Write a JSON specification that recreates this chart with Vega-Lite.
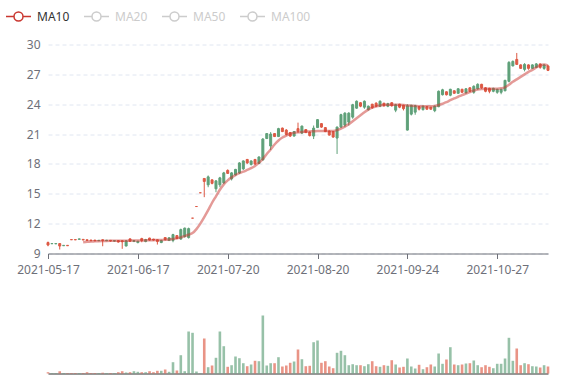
{
"$schema": "https://vega.github.io/schema/vega-lite/v6.json",
"padding": {"left": 5, "top": 2.5, "right": 5, "bottom": 5},
"spacing": 36,
"config": {"font": "Noto Sans", "view": {"stroke": null}},
"data": {"values": [
{"d":"2021-05-17","o":10.1,"h":10.2,"l":9.73,"c":9.85,"v":1300,"ma":null},
{"d":"2021-05-18","o":9.98,"h":10.02,"l":9.96,"c":10.0,"v":400,"ma":null},
{"d":"2021-05-19","o":9.97,"h":10.02,"l":9.95,"c":10.0,"v":400,"ma":null},
{"d":"2021-05-20","o":10.0,"h":10.02,"l":9.4,"c":9.75,"v":2300,"ma":null},
{"d":"2021-05-21","o":9.78,"h":9.84,"l":9.76,"c":9.82,"v":400,"ma":null},
{"d":"2021-05-24","o":9.82,"h":9.84,"l":9.76,"c":9.78,"v":400,"ma":null},
{"d":"2021-05-25","o":10.4,"h":10.4,"l":10.36,"c":10.38,"v":500,"ma":null},
{"d":"2021-05-26","o":10.4,"h":10.42,"l":10.35,"c":10.37,"v":500,"ma":null},
{"d":"2021-05-27","o":10.42,"h":10.48,"l":10.4,"c":10.47,"v":500,"ma":null},
{"d":"2021-05-28","o":10.42,"h":10.44,"l":10.33,"c":10.36,"v":500,"ma":10.13},
{"d":"2021-05-31","o":10.38,"h":10.4,"l":10.28,"c":10.3,"v":1300,"ma":10.17},
{"d":"2021-06-01","o":10.35,"h":10.37,"l":10.25,"c":10.28,"v":500,"ma":10.2},
{"d":"2021-06-02","o":10.34,"h":10.38,"l":10.25,"c":10.27,"v":500,"ma":10.22},
{"d":"2021-06-03","o":10.28,"h":10.35,"l":10.25,"c":10.33,"v":500,"ma":10.24},
{"d":"2021-06-04","o":10.38,"h":10.4,"l":9.73,"c":10.3,"v":800,"ma":10.25},
{"d":"2021-06-07","o":10.28,"h":10.36,"l":10.25,"c":10.34,"v":500,"ma":10.26},
{"d":"2021-06-08","o":10.32,"h":10.35,"l":10.2,"c":10.25,"v":500,"ma":10.27},
{"d":"2021-06-09","o":10.24,"h":10.33,"l":10.2,"c":10.3,"v":500,"ma":10.28},
{"d":"2021-06-10","o":10.3,"h":10.32,"l":10.1,"c":10.15,"v":1300,"ma":10.28},
{"d":"2021-06-11","o":10.28,"h":10.3,"l":9.47,"c":10.18,"v":2300,"ma":10.28},
{"d":"2021-06-14","o":9.75,"h":10.3,"l":9.73,"c":10.28,"v":1000,"ma":10.28},
{"d":"2021-06-15","o":10.47,"h":10.5,"l":10.18,"c":10.22,"v":1300,"ma":10.3},
{"d":"2021-06-16","o":10.2,"h":10.35,"l":10.15,"c":10.3,"v":2300,"ma":10.3},
{"d":"2021-06-17","o":10.1,"h":10.26,"l":10.02,"c":10.24,"v":1700,"ma":10.3},
{"d":"2021-06-18","o":10.5,"h":10.58,"l":10.13,"c":10.3,"v":1300,"ma":10.31},
{"d":"2021-06-21","o":10.2,"h":10.47,"l":10.13,"c":10.4,"v":1300,"ma":10.32},
{"d":"2021-06-22","o":10.55,"h":10.58,"l":10.3,"c":10.35,"v":2300,"ma":10.33},
{"d":"2021-06-23","o":10.45,"h":10.47,"l":10.3,"c":10.35,"v":1300,"ma":10.34},
{"d":"2021-06-24","o":10.38,"h":10.4,"l":9.9,"c":10.2,"v":2700,"ma":10.35},
{"d":"2021-06-25","o":10.1,"h":10.38,"l":10.04,"c":10.3,"v":2700,"ma":10.36},
{"d":"2021-06-28","o":10.6,"h":10.64,"l":10.3,"c":10.4,"v":4000,"ma":10.37},
{"d":"2021-06-29","o":10.3,"h":10.6,"l":10.28,"c":10.58,"v":1700,"ma":10.4},
{"d":"2021-06-30","o":10.3,"h":10.98,"l":10.13,"c":10.9,"v":11300,"ma":10.45},
{"d":"2021-07-01","o":10.8,"h":10.85,"l":10.45,"c":10.5,"v":3000,"ma":10.52},
{"d":"2021-07-02","o":10.45,"h":11.5,"l":10.38,"c":11.4,"v":18300,"ma":10.62},
{"d":"2021-07-05","o":10.7,"h":11.6,"l":10.6,"c":11.55,"v":2300,"ma":10.75},
{"d":"2021-07-06","o":10.6,"h":11.6,"l":10.5,"c":11.5,"v":42000,"ma":10.88},
{"d":"2021-07-07","o":12.55,"h":12.55,"l":12.55,"c":12.55,"v":40700,"ma":11.05},
{"d":"2021-07-08","o":13.72,"h":13.72,"l":13.72,"c":13.72,"v":2000,"ma":11.45},
{"d":"2021-07-09","o":15.1,"h":15.1,"l":15.1,"c":15.1,"v":300,"ma":12.0},
{"d":"2021-07-12","o":16.54,"h":16.54,"l":14.66,"c":16.24,"v":35000,"ma":12.65},
{"d":"2021-07-13","o":15.9,"h":16.84,"l":15.66,"c":16.7,"v":6300,"ma":13.35},
{"d":"2021-07-14","o":16.4,"h":16.45,"l":15.95,"c":16.05,"v":8000,"ma":14.1},
{"d":"2021-07-15","o":15.5,"h":16.35,"l":15.16,"c":16.3,"v":15700,"ma":14.75},
{"d":"2021-07-16","o":15.9,"h":16.7,"l":15.66,"c":16.6,"v":42000,"ma":15.4},
{"d":"2021-07-19","o":16.1,"h":17.2,"l":16.0,"c":17.1,"v":27300,"ma":15.95},
{"d":"2021-07-20","o":17.35,"h":17.45,"l":17.0,"c":17.05,"v":6700,"ma":16.35},
{"d":"2021-07-21","o":16.5,"h":17.17,"l":16.34,"c":17.1,"v":8300,"ma":16.65},
{"d":"2021-07-22","o":16.9,"h":17.5,"l":16.84,"c":17.45,"v":17000,"ma":16.88},
{"d":"2021-07-23","o":17.1,"h":18.17,"l":17.0,"c":18.1,"v":15300,"ma":17.07},
{"d":"2021-07-26","o":17.5,"h":18.35,"l":17.4,"c":18.3,"v":10300,"ma":17.22},
{"d":"2021-07-27","o":18.45,"h":18.5,"l":18.0,"c":18.1,"v":7300,"ma":17.4},
{"d":"2021-07-28","o":17.95,"h":18.35,"l":17.84,"c":18.3,"v":9000,"ma":17.58},
{"d":"2021-07-29","o":18.45,"h":18.5,"l":17.9,"c":18.0,"v":12700,"ma":17.8},
{"d":"2021-07-30","o":18.05,"h":18.75,"l":18.0,"c":18.7,"v":12300,"ma":18.1},
{"d":"2021-08-02","o":18.4,"h":20.6,"l":18.35,"c":20.5,"v":58000,"ma":18.5},
{"d":"2021-08-03","o":20.55,"h":21.1,"l":20.5,"c":21.05,"v":8000,"ma":19.0},
{"d":"2021-08-04","o":19.8,"h":21.2,"l":19.4,"c":21.0,"v":10300,"ma":19.45},
{"d":"2021-08-05","o":21.05,"h":21.1,"l":20.7,"c":20.75,"v":10300,"ma":19.95},
{"d":"2021-08-06","o":20.75,"h":21.63,"l":20.7,"c":21.55,"v":16300,"ma":20.35},
{"d":"2021-08-09","o":21.6,"h":21.65,"l":21.2,"c":21.25,"v":7000,"ma":20.65},
{"d":"2021-08-10","o":21.4,"h":21.5,"l":20.86,"c":20.95,"v":8000,"ma":20.85},
{"d":"2021-08-11","o":21.15,"h":21.2,"l":20.7,"c":20.8,"v":10700,"ma":21.03},
{"d":"2021-08-12","o":20.8,"h":21.3,"l":20.76,"c":21.25,"v":12000,"ma":21.12},
{"d":"2021-08-13","o":21.55,"h":22.15,"l":21.1,"c":21.3,"v":24000,"ma":21.18},
{"d":"2021-08-16","o":21.1,"h":21.86,"l":21.0,"c":21.8,"v":14300,"ma":21.22},
{"d":"2021-08-17","o":21.45,"h":21.5,"l":21.1,"c":21.15,"v":7300,"ma":21.25},
{"d":"2021-08-18","o":21.2,"h":21.26,"l":20.76,"c":20.85,"v":7700,"ma":21.27},
{"d":"2021-08-19","o":20.8,"h":21.86,"l":20.5,"c":21.6,"v":31300,"ma":21.28},
{"d":"2021-08-20","o":21.65,"h":22.5,"l":21.63,"c":22.45,"v":33000,"ma":21.3},
{"d":"2021-08-23","o":22.05,"h":22.1,"l":21.63,"c":21.7,"v":10700,"ma":21.3},
{"d":"2021-08-24","o":21.65,"h":21.7,"l":21.2,"c":21.25,"v":12300,"ma":21.3},
{"d":"2021-08-25","o":21.3,"h":21.36,"l":20.86,"c":20.9,"v":7000,"ma":21.3},
{"d":"2021-08-26","o":21.25,"h":21.3,"l":20.63,"c":20.7,"v":5300,"ma":21.32},
{"d":"2021-08-27","o":20.6,"h":21.76,"l":19.0,"c":21.7,"v":20700,"ma":21.4},
{"d":"2021-08-30","o":21.7,"h":23.04,"l":21.63,"c":22.95,"v":22700,"ma":21.55},
{"d":"2021-08-31","o":21.9,"h":23.2,"l":21.7,"c":23.1,"v":18300,"ma":21.75},
{"d":"2021-09-01","o":22.2,"h":23.2,"l":21.86,"c":23.1,"v":8300,"ma":22.0},
{"d":"2021-09-02","o":22.7,"h":24.04,"l":22.54,"c":23.95,"v":9300,"ma":22.3},
{"d":"2021-09-03","o":23.6,"h":24.38,"l":23.54,"c":24.3,"v":8300,"ma":22.6},
{"d":"2021-09-06","o":24.15,"h":24.2,"l":23.7,"c":23.8,"v":8300,"ma":22.9},
{"d":"2021-09-07","o":23.7,"h":24.38,"l":23.54,"c":24.3,"v":7300,"ma":23.2},
{"d":"2021-09-08","o":23.45,"h":23.87,"l":23.37,"c":23.8,"v":9300,"ma":23.45},
{"d":"2021-09-09","o":24.0,"h":24.04,"l":23.54,"c":23.65,"v":12300,"ma":23.65},
{"d":"2021-09-10","o":24.1,"h":24.2,"l":23.7,"c":23.8,"v":7300,"ma":23.78},
{"d":"2021-09-13","o":23.8,"h":24.38,"l":23.7,"c":24.3,"v":6700,"ma":23.87},
{"d":"2021-09-14","o":24.1,"h":24.14,"l":23.75,"c":23.85,"v":8300,"ma":23.92},
{"d":"2021-09-15","o":23.8,"h":24.14,"l":23.7,"c":24.05,"v":7700,"ma":23.94},
{"d":"2021-09-16","o":24.15,"h":24.2,"l":23.75,"c":23.85,"v":13300,"ma":23.95},
{"d":"2021-09-17","o":23.4,"h":24.04,"l":23.2,"c":23.95,"v":9000,"ma":23.95},
{"d":"2021-09-22","o":24.0,"h":24.04,"l":23.6,"c":23.7,"v":6000,"ma":23.94},
{"d":"2021-09-23","o":23.9,"h":23.94,"l":23.37,"c":23.55,"v":6700,"ma":23.92},
{"d":"2021-09-24","o":21.4,"h":24.0,"l":21.36,"c":23.85,"v":15000,"ma":23.88},
{"d":"2021-09-27","o":23.0,"h":23.94,"l":22.87,"c":23.9,"v":7000,"ma":23.85},
{"d":"2021-09-28","o":23.2,"h":23.94,"l":22.94,"c":23.85,"v":5000,"ma":23.82},
{"d":"2021-09-29","o":23.75,"h":23.8,"l":23.37,"c":23.5,"v":8700,"ma":23.8},
{"d":"2021-09-30","o":23.45,"h":23.87,"l":23.37,"c":23.8,"v":4300,"ma":23.8},
{"d":"2021-10-01","o":23.75,"h":23.8,"l":23.45,"c":23.5,"v":6300,"ma":23.8},
{"d":"2021-10-04","o":23.7,"h":23.7,"l":23.45,"c":23.5,"v":9000,"ma":23.8},
{"d":"2021-10-05","o":23.35,"h":23.87,"l":23.2,"c":23.8,"v":7000,"ma":23.82},
{"d":"2021-10-06","o":23.75,"h":25.38,"l":23.7,"c":25.3,"v":20000,"ma":23.92},
{"d":"2021-10-07","o":24.95,"h":25.55,"l":24.88,"c":25.45,"v":9700,"ma":24.05},
{"d":"2021-10-08","o":25.25,"h":25.28,"l":24.88,"c":24.95,"v":14000,"ma":24.2},
{"d":"2021-10-11","o":24.9,"h":25.55,"l":24.8,"c":25.5,"v":26300,"ma":24.4},
{"d":"2021-10-12","o":25.35,"h":25.38,"l":25.05,"c":25.1,"v":9000,"ma":24.58},
{"d":"2021-10-13","o":25.1,"h":25.6,"l":25.05,"c":25.55,"v":8300,"ma":24.75},
{"d":"2021-10-14","o":25.5,"h":25.55,"l":25.15,"c":25.2,"v":9000,"ma":24.92},
{"d":"2021-10-15","o":25.15,"h":25.6,"l":25.05,"c":25.55,"v":10000,"ma":25.08},
{"d":"2021-10-18","o":25.65,"h":25.7,"l":25.2,"c":25.3,"v":10300,"ma":25.22},
{"d":"2021-10-19","o":25.2,"h":25.9,"l":25.05,"c":25.8,"v":13000,"ma":25.38},
{"d":"2021-10-20","o":25.55,"h":26.1,"l":25.45,"c":26.0,"v":8300,"ma":25.47},
{"d":"2021-10-21","o":26.0,"h":26.05,"l":25.55,"c":25.65,"v":6300,"ma":25.52},
{"d":"2021-10-22","o":25.65,"h":25.7,"l":25.2,"c":25.3,"v":8300,"ma":25.55},
{"d":"2021-10-25","o":25.6,"h":25.65,"l":25.1,"c":25.3,"v":6700,"ma":25.55},
{"d":"2021-10-26","o":25.3,"h":25.65,"l":25.2,"c":25.6,"v":5300,"ma":25.55},
{"d":"2021-10-27","o":25.2,"h":25.55,"l":25.05,"c":25.5,"v":9700,"ma":25.56},
{"d":"2021-10-28","o":25.2,"h":25.55,"l":25.0,"c":25.5,"v":9700,"ma":25.6},
{"d":"2021-10-29","o":25.35,"h":26.45,"l":25.3,"c":26.4,"v":15000,"ma":25.7},
{"d":"2021-11-01","o":26.3,"h":28.33,"l":26.2,"c":28.2,"v":35700,"ma":25.95},
{"d":"2021-11-02","o":27.85,"h":28.4,"l":27.8,"c":28.3,"v":12700,"ma":26.25},
{"d":"2021-11-03","o":28.5,"h":29.15,"l":27.95,"c":28.0,"v":25000,"ma":26.5},
{"d":"2021-11-04","o":27.95,"h":28.0,"l":27.55,"c":27.6,"v":8300,"ma":26.75},
{"d":"2021-11-05","o":27.5,"h":28.13,"l":27.3,"c":28.0,"v":10300,"ma":27.0},
{"d":"2021-11-08","o":27.95,"h":28.0,"l":27.46,"c":27.6,"v":9300,"ma":27.25},
{"d":"2021-11-09","o":27.6,"h":28.0,"l":27.56,"c":27.95,"v":7300,"ma":27.45},
{"d":"2021-11-10","o":27.7,"h":28.13,"l":27.66,"c":28.05,"v":7000,"ma":27.7},
{"d":"2021-11-11","o":28.05,"h":28.07,"l":27.56,"c":27.7,"v":6000,"ma":27.9},
{"d":"2021-11-12","o":27.6,"h":28.0,"l":27.46,"c":27.95,"v":8300,"ma":27.98},
{"d":"2021-11-15","o":27.85,"h":27.9,"l":27.33,"c":27.4,"v":7000,"ma":27.9}
]},
"vconcat": [
{
"width": 500, "height": 209,
"encoding": {
  "x": {"field": "d", "type": "ordinal", "sort": null, "scale": {"type": "point", "padding": 0},
    "axis": {"values": ["2021-05-17","2021-06-17","2021-07-20","2021-08-20","2021-09-24","2021-10-27"], "title": null, "labelAngle": 0, "domainColor": "#6E7079", "tickColor": "#6E7079", "tickSize": 5, "labelColor": "#6E7079", "labelFontSize": 12, "labelPadding": 6, "grid": false}}
},
"layer": [
{"mark": {"type": "rule", "strokeWidth": 1},
 "encoding": {
  "y": {"field": "l", "type": "quantitative", "scale": {"domain": [9, 30], "nice": false, "zero": false},
    "axis": {"values": [9,12,15,18,21,24,27,30], "title": null, "domain": false, "ticks": false, "grid": true, "gridDash": [4,3], "gridColor": "#E0E6F1", "labelColor": "#6E7079", "labelFontSize": 12, "labelPadding": 8, "labelOverlap": false, "labelFlush": false}},
  "y2": {"field": "h"},
  "color": {"condition": {"test": "datum.c > datum.o", "value": "#5fa079"}, "value": "#dd5a45"}
 }},
{"mark": {"type": "bar", "size": 2, "strokeWidth": 1},
 "encoding": {
  "y": {"field": "o", "type": "quantitative",
    "axis": {"values": [9,12,15,18,21,24,27,30], "title": null, "domain": false, "ticks": false, "grid": true, "gridDash": [4,3], "gridColor": "#E0E6F1", "labelColor": "#6E7079", "labelFontSize": 12, "labelPadding": 8, "labelOverlap": false, "labelFlush": false}},
  "y2": {"field": "c"},
  "color": {"condition": {"test": "datum.c > datum.o", "value": "#5fa079"}, "value": "#dd5a45"},
  "stroke": {"condition": {"test": "datum.c > datum.o", "value": "#5fa079"}, "value": "#dd5a45"}
 }},
{"mark": {"type": "line", "strokeWidth": 2.5, "opacity": 0.5, "interpolate": "monotone"},
 "encoding": {
  "y": {"field": "ma", "type": "quantitative",
    "axis": {"values": [9,12,15,18,21,24,27,30], "title": null, "domain": false, "ticks": false, "grid": true, "gridDash": [4,3], "gridColor": "#E0E6F1", "labelColor": "#6E7079", "labelFontSize": 12, "labelPadding": 8, "labelOverlap": false, "labelFlush": false}},
  "color": {"datum": "MA10", "type": "nominal",
    "scale": {"domain": ["MA10","MA20","MA50","MA100"], "range": ["#c9362f","#cccccc","#cccccc","#cccccc"]},
    "legend": {"orient": "none", "legendX": -43, "legendY": -41.5, "direction": "horizontal", "title": null,
      "symbolType": "M-1,0L-0.36,0M0.36,0L1,0M0.36,0A0.36,0.36,0,1,1,-0.36,0A0.36,0.36,0,1,1,0.36,0",
      "symbolSize": 625, "symbolStrokeWidth": 1.5, "symbolFillColor": "#ffffff", "symbolOpacity": 1,
      "labelFontSize": 12, "labelOffset": 5, "columnPadding": 11, "labelColor": "#333333",
      "encode": {"labels": {"update": {"fill": {"signal": "datum.value === 'MA10' ? '#333333' : '#cccccc'"}}}}}}
 }}
]
},
{
"width": 500, "height": 62,
"mark": {"type": "bar", "size": 2.6, "opacity": 0.65},
"encoding": {
  "x": {"field": "d", "type": "ordinal", "sort": null, "scale": {"type": "point", "padding": 0},
    "axis": {"title": null, "labels": false, "ticks": false, "domainColor": "#333333", "grid": false}},
  "y": {"field": "v", "type": "quantitative", "scale": {"domain": [0, 62000]}, "axis": null},
  "color": {"condition": {"test": "datum.o > datum.c", "value": "#dd5a45"}, "value": "#5fa079"}
}
}
]
}
